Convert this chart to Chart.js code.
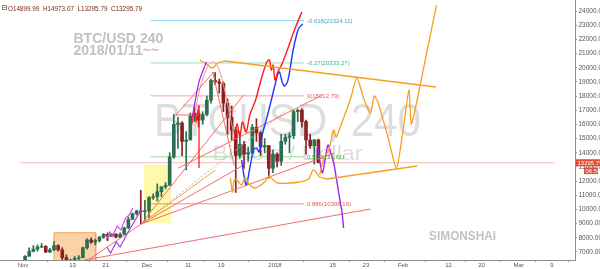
<!DOCTYPE html>
<html><head><meta charset="utf-8">
<script src="https://cdn.jsdelivr.net/npm/chart.js@4.4.1/dist/chart.umd.min.js"></script>
<style>html,body{margin:0;padding:0;background:#fff;overflow:hidden}canvas{display:block}</style>
</head><body>
<canvas id="c" width="600" height="269"></canvas>
<script>
// ---- time axis: days relative to 2018-01-01 ----
const xTickDays   = [-61,-49,-41,-31,-21,-13,0,14,22,31,42,50,59,67];
const xTickLabels = ['Nov','13','21','Dec','11','19','2018','15','23','Feb','12','20','Mar','9'];
const yTickValues = [7000,8000,9000,10000,11000,12000,13000,14000,15000,16000,17000,18000,19000,20000,21000,22000,23000,24000];

// ---- daily candles 2017-11-01 .. 2018-01-11 ----
const days = [-61,-60,-59,-58,-57,-56,-55,-54,-53,-52,-51,-50,-49,-48,-47,-46,-45,-44,-43,-42,-41,-40,-39,-38,-37,-36,-35,-34,-33,-32,-31,-30,-29,-28,-27,-26,-25,-24,-23,-22,-21,-20,-19,-18,-17,-16,-15,-14,-13,-12,-11,-10,-9,-8,-7,-6,-5,-4,-3,-2,-1,0,1,2,3,4,5,6,7,8,9,10];
const opens = [6450,6700,7050,7200,7350,7400,7000,7150,7450,7150,
  6600,6350,5900,6550,6600,7300,7850,7700,7800,8050,
  8250,8100,8250,8050,8250,8700,9300,9700,9900,9850,
  9900,10850,10900,11250,11600,11700,13700,16000,16100,14800,
  14900,16600,16800,16300,16700,17700,19100,19000,18900,17500,
  16500,15600,13800,14600,13900,14000,15800,15400,14400,14500,
  12900,13900,13400,14800,15100,15200,16900,17000,16200,14900,
  14500,14899.99];
const highs = [6750,7300,7450,7500,7600,7450,7250,7750,7500,7300,
  6800,6500,6700,6750,7350,7950,8000,7900,8100,8300,
  8350,8300,8300,8350,8750,9450,9750,9950,11350,10650,
  10900,11100,11800,11600,11900,14000,16700,16500,16200,15500,
  16800,17200,17000,16900,18000,19200,19650,19200,19000,17800,
  17300,15800,15500,14800,14400,16000,16400,15500,15000,14500,
  14200,14000,15300,15300,15400,17000,17100,17100,16300,15300,
  14950,14973.07];
const lows = [6400,6700,7000,7050,7300,6950,6950,7100,7050,6400,
  6200,5500,5850,6450,6600,7200,7600,7500,7700,7950,
  7800,8100,8000,8000,8200,8650,9300,9600,9000,9100,
  9400,10700,10600,10900,11450,11700,13600,14300,13800,12800,
  14900,16200,15800,16000,16600,17500,18800,18200,16900,15300,
  14900,11200,13600,12900,13400,13900,14800,13800,14000,12200,
  12600,13000,13100,14600,14000,15000,16200,15800,13900,14300,
  13200,13295.79];
const closes = [6700,7050,7200,7350,7400,7000,7150,7450,7150,6600,
  6350,5900,6550,6600,7300,7850,7700,7800,8050,8250,
  8100,8250,8050,8250,8700,9300,9700,9900,9850,9900,
  10850,10900,11250,11600,11700,13700,16000,16100,14800,14900,
  16600,16800,16300,16700,17700,19100,19000,18900,17500,16500,
  15600,13800,14600,13900,14000,15800,15400,14400,14500,12900,
  13900,13400,14800,15100,15200,16900,17000,16200,14900,14500,
  14900,13295.79];
const lastPrice = 13295.79;
const headerText = 'O14899.99  H14973.07  L13295.79  C13295.79';

// ---- fibonacci retracement ----
const fibStartDay = -30.1, fibEndDay = 7.0;
const fibLevels = ['-0.618','-0.27','0','0.5','0.886'];
const fibPrices = [23324.11, 20333.27, 18012.79, 13715.61, 10398.19];

// ---- drawings: [day, price] anchors ----
const orangeRect = [[-53.5,6000],[-53.5,8360],[-43.4,8360],[-43.4,6000],[-53.5,6000]];
const yellowRect = [[-31.7,9050],[-31.7,13140],[-25.2,13140],[-25.2,9050],[-31.7,9050]];
const longTrend = [[-48.1,6330],[23.15,10033]];
const riseToLow = [[-45.2,6436],[-32.4,8975]];
const fanRedSteep = [[-32.4,8975],[-7.6,18075]];
const fanGray = [[-32.4,8975],[2.9,17016]];
const fanOrange = [[-32.4,8975],[-14.4,12784]];
const fanRedMid = [[-32.4,8975],[-7.6,13137]];
const fanRedLow = [[-32.4,8975],[14.4,13983]];
const channelUpper = [[-23.4,12925],[11.5,18075]];
const peakLine = [[-24.0,16664],[-14.8,19697]];
const dropLine = [[-15.1,19697],[-9.9,13137]];
const shortHoriz = [[-24.0,16664],[-19.6,16664]];
const redStroke = [[-20.2,15958],[-19.55,16875],[-19.1,16240],[-18.4,17369],[-18.4,12925]];
const pinkArc = [[-19.3,17017],[-17.75,18992],[-16.2,20120],[-14.8,20403],[-13.5,19838],[-12.1,18286],[-10.8,16452],[-9.9,15253]];
const purpleTop = [[-20.0,16523],[-18.4,19000],[-16.6,20403]];
const magentaZig = [[-40.9,7846],[-40.0,8411],[-39.3,8129],[-38.2,8834],[-37.3,8552],[-36.2,9398],[-35.3,9610],[-34.4,10103]];
const purpleZig = [[-40.7,7353],[-39.8,6929],[-38.4,7705],[-37.5,7353],[-35.7,8340],[-32.4,9962]];
const orangePeak = [[-18.2,20544],[-16.6,20261],[-15.1,19979],[-13.9,20332],[-12.1,20473]];
const orangeTriTop = [[-12.1,20473],[38.9,18639]];
const orangeLower = [[-10.8,12220],[-10.3,11232],[-9.9,12079],[-9.2,12079],[-8.1,11726],[-7.2,12220],[-6.1,11726],[-4.9,11515],[-3.8,11656],[-2.5,11938],[-1.35,12361],[-0.45,12079],[0.67,11867],[3.6,11867],[5.8,11938],[8.1,12149],[9.2,12784],[9.9,12643],[10.8,12290],[12.6,12149]];
const orangeLowerLine = [[12.6,12149],[34.4,13066]];
const orangeProj = [[10.8,12431],[11.7,13490],[13.0,14195],[14.2,15606],[14.8,15112],[16.4,16311],[18.2,17722],[19.8,19274],[21.6,17722],[23.1,16805],[24.0,18004],[24.9,17581],[27.2,15253],[29.4,12925],[31.0,15606],[32.4,18427],[33.0,16029],[34.4,17722],[36.6,20896],[39.1,24423]];
const purpleProj = [[10.3,14548],[11.0,13137],[11.5,12572],[12.1,13490],[12.8,14548],[13.3,14195],[14.2,13278],[14.8,12290],[15.5,11020],[16.2,9821],[16.6,8693]];
const redProj = [[-9.9,14900],[-9.2,16029],[-8.5,15112],[-7.9,16170],[-7.0,15465],[-6.1,16664],[-4.7,17722],[-3.4,19133],[-2.0,20403],[-1.35,20544],[-0.9,19838],[-0.45,20191],[0,19133],[0.67,19697],[1.8,20332],[3.15,21390],[4.7,22660],[6.5,23929]];
const blueProj = [[-8.1,13490],[-7.0,11726],[-6.1,12925],[-5.2,14195],[-4.5,14336],[-3.8,14054],[-3.1,15253],[-1.8,16664],[-0.9,17722],[0,18780],[0.67,19556],[1.1,19697],[1.6,19133],[2.2,18710],[2.9,18921],[3.4,19486],[4.3,21108],[5.2,22307],[5.8,22801],[6.7,23083]];

// text notes anchored at [day, price]
const notes = [
  {text:'BTC/USD 240', d:-48.8, p:21722, w:90, font:'bold 14px "Liberation Sans", Arial, sans-serif'},
  {text:'2018/01/11~~', d:-48.8, p:20896, w:0, font:'bold 14px "Liberation Sans", Arial, sans-serif'},
  {text:'SIMONSHAI', d:37.3, p:7846, w:67, font:'bold 12px "Liberation Sans", Arial, sans-serif'}
];
const watermarkTitle = 'BTCUSD, 240';
const watermarkSub = 'Bitcoin / Dollar';

// ---- build datasets ----
const UP = '#2a7050', DOWN = '#8c2121';
const candleColors = closes.map((c,i)=> c >= opens[i] ? UP : DOWN);
const pts = a => a.map(([x,y]) => ({x, y}));
function line(points, color, width, extra) {
  return Object.assign({type:'line', data: pts(points), borderColor: color, borderWidth: width,
    pointRadius: 0, fill: false, tension: 0, order: 2}, extra || {});
}
const datasets = [];
datasets.push(line(orangeRect, '#f0a65a', 1, {fill:'shape', backgroundColor:'rgba(246,180,110,0.6)', order: 20}));
datasets.push(line(yellowRect, 'rgba(0,0,0,0)', 0, {fill:'shape', backgroundColor:'rgba(255,243,90,0.5)', order: 20}));
datasets.push(line([[-61.6,lastPrice],[67.64,lastPrice]], '#f4b9b9', 1, {order: 19}));
const fibLineColors = ['#8fd0ee','#97e3c8','#f5a3a3','#9ddc9d','#f38b8b'];
const fibLabelColors = ['#3f9fd6','#2fb98c','#ee6464','#46a84a','#ee5a5a'];
fibPrices.forEach((p,i)=> datasets.push(line([[fibStartDay,p],[fibEndDay,p]], fibLineColors[i], 1, {order: 18})));
datasets.push({type:'bar', data: days.map((d,i)=>({x:d+0.5, y:[lows[i], highs[i]]})), backgroundColor: candleColors,
  barThickness: 1, grouped: false, order: 11});
datasets.push({type:'bar', data: days.map((d,i)=>({x:d+0.5, y:[opens[i], closes[i]]})), backgroundColor: candleColors,
  barThickness: 3, grouped: false, order: 10});
const thinRed = '#f26c6c';
[longTrend, riseToLow, fanRedSteep, fanRedMid, fanRedLow, channelUpper, peakLine, dropLine, shortHoriz]
  .forEach(a => datasets.push(line(a, thinRed, 1)));
datasets.push(line(pinkArc, '#f59090', 1, {tension: 0.4}));
datasets.push(line(fanGray, '#b5b5b5', 1, {borderDash:[2,2]}));
datasets.push(line(fanOrange, '#f5a030', 1));
datasets.push(line(redStroke, '#ff1f1f', 1.3, {order: 1}));
datasets.push(line(purpleTop, '#a020f0', 1.2, {tension: 0.3, order: 1}));
datasets.push(line(magentaZig, '#e444f2', 1.2, {order: 1}));
datasets.push(line(purpleZig, '#a43cf0', 1.2, {order: 1}));
datasets.push(line(orangePeak, '#f7a020', 1.3, {tension: 0.4, order: 1}));
datasets.push(line(orangeTriTop, '#f7a020', 1.3, {order: 1}));
datasets.push(line(orangeLower, '#f7a020', 1.3, {tension: 0.35, order: 1}));
datasets.push(line(orangeLowerLine, '#f7a020', 1.3, {order: 1}));
datasets.push(line(orangeProj, '#f7a020', 1.3, {tension: 0.2, order: 1}));
datasets.push(line(purpleProj, '#a020f0', 1.4, {tension: 0.3, order: 1}));
datasets.push(line(redProj, '#ff1c1c', 1.4, {tension: 0.3, order: 1}));
datasets.push(line(blueProj, '#2038ff', 1.4, {tension: 0.3, order: 1}));

// ---- helpers ----
function fitText(ctx, txt, x, y, w, align) {
  const m = ctx.measureText(txt).width || 1;
  if (!w) w = m;
  const s = w / m;
  ctx.save();
  ctx.translate(align === 'center' ? x - w/2 : x, y);
  ctx.scale(s, 1);
  ctx.textAlign = 'left';
  ctx.fillText(txt, 0, 0);
  ctx.restore();
}
const FONT = '"Liberation Sans", Arial, sans-serif';

const overlay = {
  id: 'overlay',
  beforeDatasetsDraw(chart) {
    const {ctx, chartArea: a} = chart;
    ctx.save();
    ctx.beginPath(); ctx.rect(a.left, a.top, a.right - a.left, a.bottom - a.top); ctx.clip();
    const cx = (a.left + a.right) / 2, cy = (a.top + a.bottom) / 2;
    ctx.fillStyle = 'rgba(0,0,0,0.135)';
    ctx.textBaseline = 'alphabetic';
    ctx.font = '47px ' + FONT;
    fitText(ctx, watermarkTitle, cx, cy + 6, 267, 'center');
    ctx.font = '20px ' + FONT;
    fitText(ctx, watermarkSub, cx, cy + 30, 150, 'center');
    ctx.restore();
  },
  afterDatasetsDraw(chart) {
    const {ctx, chartArea: a, scales: {x: xs, y: ys}} = chart;
    ctx.save();
    ctx.beginPath(); ctx.rect(a.left, a.top, a.right - a.left, a.bottom - a.top); ctx.clip();
    ctx.font = '6px ' + FONT;
    ctx.textBaseline = 'middle';
    ctx.textAlign = 'left';
    fibPrices.forEach((p,i) => {
      ctx.fillStyle = fibLabelColors[i];
      ctx.fillText(fibLevels[i] + '(' + p.toFixed(2) + ')', xs.getPixelForValue(fibEndDay) + 3, ys.getPixelForValue(p) + 0.5);
    });
    ctx.fillStyle = '#c2c2c2';
    ctx.textBaseline = 'alphabetic';
    notes.forEach(n => {
      ctx.font = n.font;
      fitText(ctx, n.text, xs.getPixelForValue(n.d), ys.getPixelForValue(n.p), n.w);
    });
    ctx.restore();
  },
  afterDraw(chart) {
    const {ctx, chartArea: a, scales: {y: ys}} = chart;
    ctx.save();
    // legend header
    ctx.strokeStyle = '#8a8a8a'; ctx.lineWidth = 1;
    ctx.strokeRect(2.5, 5.5, 4, 4);
    ctx.beginPath(); ctx.moveTo(3.5, 7.5); ctx.lineTo(5.5, 7.5); ctx.stroke();
    ctx.fillStyle = '#7a2a1e';
    ctx.font = '6.5px ' + FONT;
    ctx.textBaseline = 'alphabetic';
    fitText(ctx, headerText, 8, 10.5, 134);
    // last price box on axis
    const py = ys.getPixelForValue(lastPrice);
    ctx.fillStyle = '#e24b35';
    ctx.fillRect(a.right + 1, py - 3.5, 600 - a.right - 1, 7);
    ctx.fillRect(a.right + 9, py + 4.8, 14, 6.5);
    ctx.fillStyle = '#ffffff';
    ctx.font = '6px ' + FONT;
    ctx.textBaseline = 'middle';
    ctx.fillText(lastPrice.toFixed(2), a.right + 2.5, py + 0.3);
    ctx.fillText('06:56', a.right + 10.5, py + 8.2);
    ctx.restore();
  }
};

new Chart(document.getElementById('c').getContext('2d'), {
  type: 'line',
  data: { datasets },
  plugins: [overlay],
  options: {
    responsive: false, animation: false, devicePixelRatio: 1,
    layout: { padding: 0 },
    plugins: { legend: { display: false }, tooltip: { enabled: false } },
    elements: { point: { radius: 0 } },
    scales: {
      x: {
        type: 'linear', position: 'bottom', min: -61.6, max: 67.64,
        grid: { drawOnChartArea: false, drawTicks: true, tickLength: 2, color: '#9a9a9a' },
        border: { display: true, color: '#8f8f8f' },
        ticks: { autoSkip: false, maxRotation: 0, padding: 0, color: '#555', font: { size: 6, family: 'Liberation Sans' },
                 callback: (v, i) => xTickLabels[i] },
        afterBuildTicks: s => { s.ticks = xTickDays.map(v => ({ value: v })); },
        afterFit: s => { s.height = 9; s.paddingLeft = 0; s.paddingRight = 0; }
      },
      y: {
        type: 'linear', position: 'right', min: 6435, max: 24776,
        grid: { drawOnChartArea: false, drawTicks: true, tickLength: 2, color: '#9a9a9a' },
        border: { display: true, color: '#8f8f8f' },
        ticks: { autoSkip: false, padding: 1.5, color: '#555', font: { size: 6.5, family: 'Liberation Sans' },
                 callback: v => Number(v).toFixed(2) },
        afterBuildTicks: s => { s.ticks = yTickValues.map(v => ({ value: v })); },
        afterFit: s => { s.width = 25; s.paddingTop = 0; s.paddingBottom = 0; }
      }
    }
  }
});
</script>
</body></html>
